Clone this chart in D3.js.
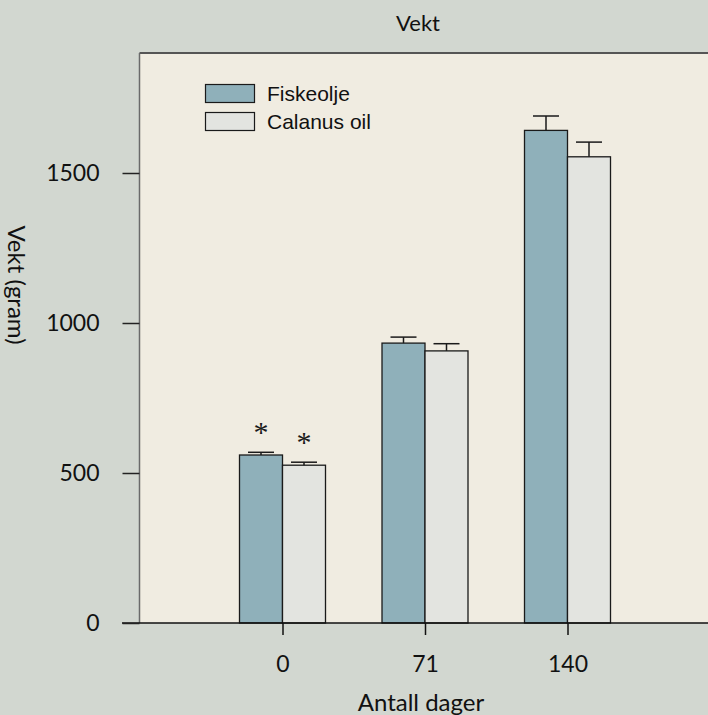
<!DOCTYPE html>
<html>
<head>
<meta charset="utf-8">
<script src="https://cdn.jsdelivr.net/npm/d3@7/dist/d3.min.js"></script>
<style>
  html, body { margin: 0; padding: 0; background: #d2d7d0; }
  svg { display: block; }
</style>
</head>
<body>
<script>
// ---- data ----
const days = ["0", "71", "140"];
const seriesNames = ["Fiskeolje", "Calanus oil"];
const fiskeolje = [560, 933, 1642];
const fiskeoljeErr = [9, 20, 48];
const calanus = [526, 907, 1554];
const calanusErr = [10, 24, 49];
const fiskeoljeMarks = ["*", "", ""];
const calanusMarks = ["*", "", ""];
const yTicks = [0, 500, 1000, 1500];
const colors = ["#8fb0ba", "#e3e4e0"];

const W = 708, H = 715;
const plotLeft = 139.5, plotTop = 53, plotBottom = 623, plotRight = 720;

const svg = d3.select("body").append("svg").attr("width", W).attr("height", H);
svg.append("rect").attr("width", W).attr("height", H).attr("fill", "#d2d7d0");

const y = d3.scaleLinear().domain([0, 1900]).range([plotBottom, plotTop]);
const x = d3.scalePoint().domain(days).range([282.5, 567.5]);
const barW = 43;

// plot background
svg.append("rect").attr("x", plotLeft).attr("y", plotTop)
  .attr("width", plotRight - plotLeft).attr("height", plotBottom - plotTop)
  .attr("fill", "#f0ece1");
// frame lines
svg.append("line").attr("x1", plotLeft).attr("x2", plotRight).attr("y1", plotTop).attr("y2", plotTop)
  .attr("stroke", "#555").attr("stroke-width", 2);
svg.append("line").attr("x1", plotLeft).attr("x2", plotLeft).attr("y1", plotTop).attr("y2", plotBottom)
  .attr("stroke", "#6a6a6a").attr("stroke-width", 1.5);

const series = [
  { name: seriesNames[0], vals: fiskeolje, err: fiskeoljeErr, marks: fiskeoljeMarks, off: -barW, color: colors[0] },
  { name: seriesNames[1], vals: calanus, err: calanusErr, marks: calanusMarks, off: 0, color: colors[1] }
];

series.forEach(s => {
  const g = svg.append("g");
  g.selectAll("rect").data(days).join("rect")
    .attr("x", (d) => x(d) + s.off)
    .attr("y", (d, i) => y(s.vals[i]))
    .attr("width", barW)
    .attr("height", (d, i) => y(0) - y(s.vals[i]))
    .attr("fill", s.color).attr("stroke", "#1a1a1a").attr("stroke-width", 1.3);
  // error bars
  g.selectAll("line.v").data(days).join("line").attr("class", "v")
    .attr("x1", d => x(d) + s.off + barW / 2).attr("x2", d => x(d) + s.off + barW / 2)
    .attr("y1", (d, i) => y(s.vals[i])).attr("y2", (d, i) => y(s.vals[i] + s.err[i]))
    .attr("stroke", "#1a1a1a").attr("stroke-width", 1.5);
  g.selectAll("line.c").data(days).join("line").attr("class", "c")
    .attr("x1", d => x(d) + s.off + barW / 2 - 13).attr("x2", d => x(d) + s.off + barW / 2 + 13)
    .attr("y1", (d, i) => y(s.vals[i] + s.err[i])).attr("y2", (d, i) => y(s.vals[i] + s.err[i]))
    .attr("stroke", "#1a1a1a").attr("stroke-width", 1.5);
  // significance marks
  g.selectAll("text").data(days).join("text")
    .attr("x", d => x(d) + s.off + barW / 2)
    .attr("y", (d, i) => y(s.vals[i] + s.err[i]) - 10)
    .attr("text-anchor", "middle")
    .attr("font-family", "Liberation Serif, Times New Roman, serif")
    .attr("font-size", 30).attr("fill", "#1a1a1a")
    .text((d, i) => s.marks[i]);
});

// bottom axis line
svg.append("line").attr("x1", 122).attr("x2", plotRight).attr("y1", plotBottom).attr("y2", plotBottom)
  .attr("stroke", "#111").attr("stroke-width", 1.5);

// y axis
const yAxis = d3.axisLeft(y).tickValues(yTicks).tickSize(17).tickPadding(23).tickFormat(d3.format("d"));
const ya = svg.append("g").attr("transform", `translate(${plotLeft},0)`).call(yAxis);
ya.select(".domain").remove();
ya.selectAll(".tick line").attr("stroke", "#222").attr("stroke-width", 1.5);
ya.selectAll(".tick text").attr("font-family", "Lato, sans-serif").attr("font-size", 23).attr("fill", "#111");

// x axis
const xAxis = d3.axisBottom(x).tickSize(12).tickPadding(21);
const xa = svg.append("g").attr("transform", `translate(0,${plotBottom})`).call(xAxis);
xa.select(".domain").remove();
xa.selectAll(".tick line").attr("stroke", "#111").attr("stroke-width", 1.5);
xa.selectAll(".tick text").attr("font-family", "Lato, sans-serif").attr("font-size", 23).attr("fill", "#111");

// titles
svg.append("text").attr("x", 418).attr("y", 31).attr("text-anchor", "middle")
  .attr("font-family", "Lato, sans-serif").attr("font-size", 22).attr("fill", "#111").text("Vekt");
svg.append("text").attr("x", 421).attr("y", 711).attr("text-anchor", "middle")
  .attr("font-family", "Lato, sans-serif").attr("font-size", 24).attr("fill", "#111").text("Antall dager");
svg.append("text").attr("transform", "translate(8,285) rotate(90)").attr("text-anchor", "middle")
  .attr("font-family", "Lato, sans-serif").attr("font-size", 24).attr("fill", "#111").text("Vekt (gram)");

// legend
const leg = svg.append("g");
seriesNames.forEach((n, i) => {
  leg.append("rect").attr("x", 205.5).attr("y", 84.5 + i * 28).attr("width", 49).attr("height", 18)
    .attr("fill", colors[i]).attr("stroke", "#1a1a1a").attr("stroke-width", 1.2);
  leg.append("text").attr("x", 267).attr("y", 100.5 + i * 28)
    .attr("font-family", "Liberation Sans, Arial, sans-serif").attr("font-size", 21).attr("fill", "#111").text(n);
});
</script>
</body>
</html>
